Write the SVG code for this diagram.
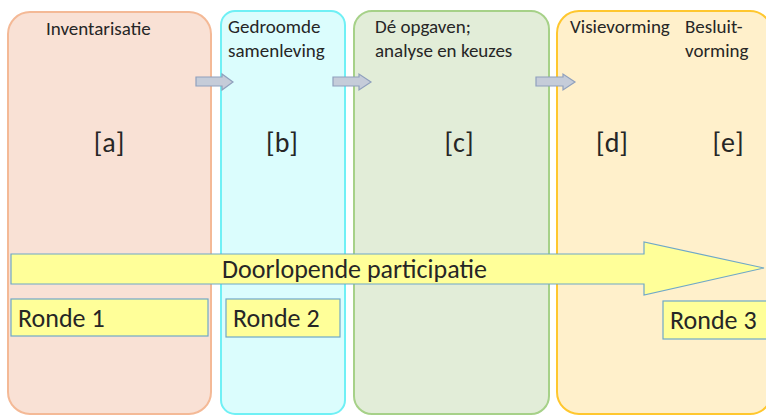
<svg xmlns="http://www.w3.org/2000/svg" width="766" height="416" viewBox="0 0 766 416">
<defs>
<style>
.t{font-family:Carlito,"Liberation Sans",Arial,sans-serif;fill:#262626}
.h{font-size:19px}
.l{font-size:28px}
.b{font-size:26px}
.col{stroke-width:2}
.sa{fill:#C5CCD9;stroke:#8FA0BD;stroke-width:1.2}
.yb{fill:#FFFF99;stroke:#6FA8C8;stroke-width:1.2}
</style>
</defs>
<rect width="766" height="416" fill="#ffffff"/>
<g id="col-a">
<rect class="col" x="8" y="12" width="203" height="402" rx="22" fill="#F9E1D5" stroke="#F4B996"/>
<text class="t h" x="46" y="35">Inventarisatie</text>
<text class="t l" x="109" y="152" text-anchor="middle">[a]</text>
</g>
<g id="col-b">
<rect class="col" x="221" y="11" width="124" height="403" rx="14" fill="#DBFDFD" stroke="#6FF0F5"/>
<text class="t h" x="228" y="33">Gedroomde</text>
<text class="t h" x="228" y="57">samenleving</text>
<text class="t l" x="282" y="152" text-anchor="middle">[b]</text>
</g>
<g id="col-c">
<rect class="col" x="354" y="11" width="195" height="403" rx="18" fill="#E2EDD8" stroke="#A6D188"/>
<text class="t h" x="375" y="33">Dé opgaven;</text>
<text class="t h" x="375" y="57">analyse en keuzes</text>
<text class="t l" x="459" y="152" text-anchor="middle">[c]</text>
</g>
<g id="col-de">
<rect class="col" x="557" y="11" width="215" height="403" rx="22" fill="#FFF0CB" stroke="#FFC72E"/>
<text class="t h" x="570" y="33">Visievorming</text>
<text class="t h" x="685" y="33">Besluit-</text>
<text class="t h" x="685" y="57">vorming</text>
<text class="t l" x="612" y="152" text-anchor="middle">[d]</text>
<text class="t l" x="728" y="152" text-anchor="middle">[e]</text>
</g>
<g id="connectors">
<polygon class="sa" points="196,77 222,77 222,74 233,82 222,90 222,86 196,86"/>
<polygon class="sa" points="333,77 359,77 359,74 371,82 359,90 359,86 333,86"/>
<polygon class="sa" points="536,77 563,77 563,74 575,82 563,90 563,86 536,86"/>
</g>
<g id="participatie">
<polygon class="yb" points="11,254 644,254 644,242 764,268 644,295 644,284 11,284"/>
<text class="t b" x="222" y="278">Doorlopende participatie</text>
</g>
<g id="ronde1">
<rect class="yb" x="11" y="299" width="197" height="37"/>
<text class="t b" x="18" y="327">Ronde 1</text>
</g>
<g id="ronde2">
<rect class="yb" x="226" y="299" width="114" height="38"/>
<text class="t b" x="233" y="327">Ronde 2</text>
</g>
<g id="ronde3">
<rect class="yb" x="663" y="301" width="110" height="38"/>
<text class="t b" x="670" y="329">Ronde 3</text>
</g>
</svg>
